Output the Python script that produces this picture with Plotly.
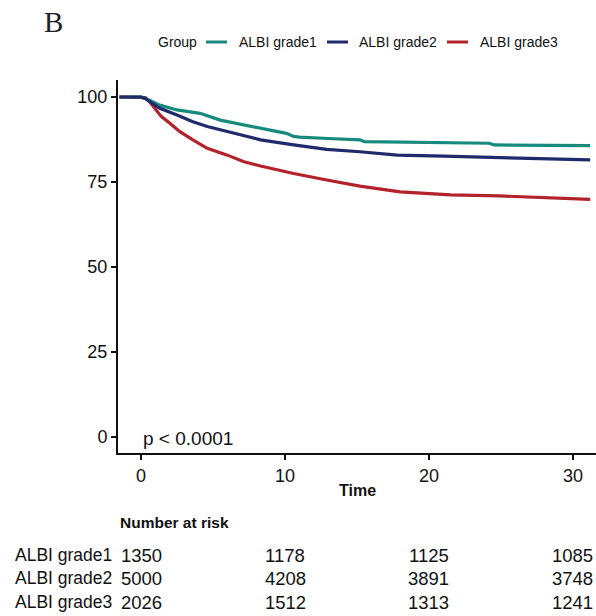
import plotly.graph_objects as go

# ---- data ----
groups = ["ALBI grade1", "ALBI grade2", "ALBI grade3"]
colors = ["#168B7D", "#1F2A6B", "#B3212A"]

time_g1 = [-1.5, 0, 0.3, 1.3, 2.5, 4.1, 5.5, 8.3, 10.1, 10.6, 11.0, 13.0, 15.2, 15.5, 19.0, 24.2, 24.5, 28.0, 31.2]
surv_g1 = [100, 100, 99.6, 97.6, 96.2, 95.2, 93.2, 90.8, 89.3, 88.4, 88.2, 87.8, 87.4, 86.9, 86.7, 86.4, 85.9, 85.8, 85.7]

time_g2 = [-1.5, 0, 0.3, 1.3, 2.5, 3.6, 4.6, 6.0, 8.3, 10.6, 12.9, 15.2, 17.8, 21.0, 24.9, 28.0, 31.2]
surv_g2 = [100, 100, 99.5, 96.7, 94.7, 92.7, 91.3, 89.8, 87.4, 85.9, 84.6, 83.9, 82.9, 82.6, 82.2, 82.0, 81.5]

time_g3 = [-1.5, 0, 0.3, 0.6, 1.0, 1.4, 2.0, 2.7, 3.6, 4.6, 6.0, 7.1, 8.3, 10.6, 12.9, 15.2, 18.0, 21.5, 24.9, 28.0, 31.2]
surv_g3 = [100, 100, 99.8, 98.6, 96.6, 94.3, 92.3, 89.8, 87.4, 84.9, 82.9, 81.0, 79.7, 77.5, 75.6, 73.8, 72.1, 71.2, 70.9, 70.5, 69.9]

x_ticks = [0, 10, 20, 30]
y_ticks = [0, 25, 50, 75, 100]
risk_times = [0, 10, 20, 30]
risk_g1 = [1350, 1178, 1125, 1085]
risk_g2 = [5000, 4208, 3891, 3748]
risk_g3 = [2026, 1512, 1313, 1241]
p_text = "p < 0.0001"

W, H = 596, 616
FONT = "Liberation Sans, Arial, sans-serif"

def px(x):
    return x / W

def py(y):
    return 1 - y / H

fig = go.Figure()
series = [(time_g1, surv_g1), (time_g2, surv_g2), (time_g3, surv_g3)]
for idx in [2, 0, 1]:
    t, s = series[idx]
    fig.add_trace(go.Scatter(x=t, y=s, mode="lines", name=groups[idx],
                             line=dict(color=colors[idx], width=3.2),
                             showlegend=False, cliponaxis=True))

fig.update_layout(
    width=W, height=H,
    margin=dict(l=0, r=0, t=0, b=0),
    paper_bgcolor="white", plot_bgcolor="white",
    font=dict(family=FONT, color="#111"),
    xaxis=dict(domain=[px(118), 1.0], range=[-1.6, 31.6],
               tickvals=x_ticks, ticks="outside", ticklen=5, tickwidth=1.5,
               tickcolor="#111", showline=True, linecolor="#111", linewidth=2,
               showgrid=False, zeroline=False, tickfont=dict(size=18, color="#111")),
    yaxis=dict(domain=[py(453), py(80)], range=[-4.7, 105],
               tickvals=y_ticks, ticks="outside", ticklen=5, tickwidth=1.5,
               tickcolor="#111", showline=True, linecolor="#111", linewidth=2,
               showgrid=False, zeroline=False, tickfont=dict(size=18, color="#111")),
)

ann = []
# Panel letter
ann.append(dict(text="B", x=px(42), y=py(22), xref="paper", yref="paper",
                xanchor="left", yanchor="middle", showarrow=False,
                font=dict(family="Liberation Serif, Times New Roman, serif", size=29, color="#222")))
# Legend (manual)
ann.append(dict(text="Group", x=px(156), y=py(42), xref="paper", yref="paper",
                xanchor="left", yanchor="middle", showarrow=False, font=dict(size=14, color="#111")))
leg_line_x = [206, 327, 447]
leg_text_x = [237, 357, 478]
shapes = []
for i in range(3):
    shapes.append(dict(type="line", xref="paper", yref="paper",
                       x0=px(leg_line_x[i]), x1=px(leg_line_x[i] + 21), y0=py(42), y1=py(42),
                       line=dict(color=colors[i], width=3)))
    ann.append(dict(text=groups[i], x=px(leg_text_x[i]), y=py(42), xref="paper", yref="paper",
                    xanchor="left", yanchor="middle", showarrow=False, font=dict(size=14, color="#111")))
# p-value
ann.append(dict(text=p_text, x=px(141), y=py(438), xref="paper", yref="paper",
                xanchor="left", yanchor="middle", showarrow=False, font=dict(size=19, color="#111")))
# x title
ann.append(dict(text="<b>Time</b>", x=px(357), y=py(490), xref="paper", yref="paper",
                xanchor="center", yanchor="middle", showarrow=False, font=dict(size=16, color="#111")))
# Risk table
ann.append(dict(text="<b>Number at risk</b>", x=px(118), y=py(522), xref="paper", yref="paper",
                xanchor="left", yanchor="middle", showarrow=False, font=dict(size=15.5, color="#111")))
row_y = [555, 578, 602]
risk_rows = [risk_g1, risk_g2, risk_g3]
for r in range(3):
    ann.append(dict(text=groups[r], x=px(13), y=py(row_y[r]), xref="paper", yref="paper",
                    xanchor="left", yanchor="middle", showarrow=False, font=dict(size=17.5, color="#111")))
    for tt, n in zip(risk_times, risk_rows[r]):
        ann.append(dict(text=str(n), x=tt, y=py(row_y[r]), xref="x", yref="paper",
                        xanchor="center", yanchor="middle", showarrow=False,
                        font=dict(size=18.5, color="#111")))

fig.update_layout(annotations=ann, shapes=shapes)

html = fig.to_html(full_html=True, include_plotlyjs=True,
                   config={"displayModeBar": False, "staticPlot": True})
html = html.replace("<head>", "<head><style>html,body{margin:0;padding:0;overflow:hidden;}</style>", 1)
with open("out.html", "w", encoding="utf-8") as f:
    f.write(html)
